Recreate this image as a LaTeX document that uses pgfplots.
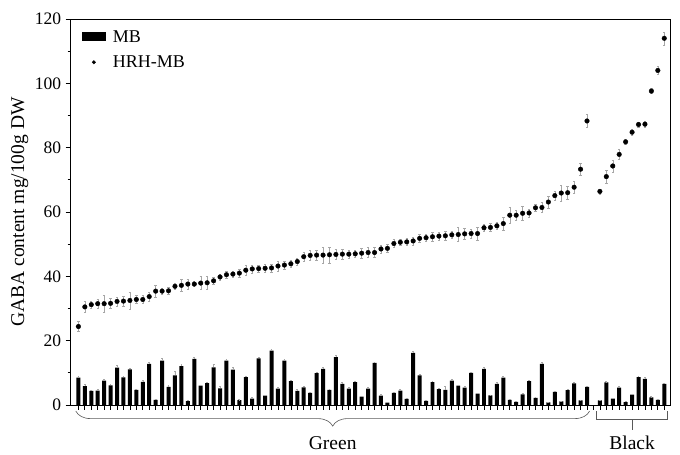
\documentclass[border=0pt]{standalone}
\usepackage{fontspec}
\setmainfont{Liberation Serif}
\usepackage{pgfplots}
\usepackage{pgfplotstable}
\pgfplotsset{compat=1.18}
\usetikzlibrary{decorations.pathreplacing}

\pgfplotstableread{
x y e
1 8.5 0.5
2 5.9 0.6
3 4.4 0.3
4 4.5 0.3
5 7.6 0.4
6 6.1 0.3
7 11.6 0.8
8 8.6 0.4
9 11.1 0.4
10 4.7 0.3
11 7.2 0.4
12 12.8 0.5
13 1.6 0.2
14 13.8 0.6
15 5.6 0.4
16 9.2 1.4
17 12.1 0.5
18 1.2 0.2
19 14.3 0.6
20 6.0 0.3
21 6.8 0.4
22 11.7 0.9
23 5.2 0.6
24 13.8 0.5
25 11.0 0.7
26 1.5 0.2
27 8.7 0.4
28 2.0 0.3
29 14.5 0.4
30 2.9 0.2
31 16.9 0.3
32 5.1 0.3
33 13.8 0.4
34 7.4 0.4
35 4.4 0.4
36 5.5 0.3
37 3.8 0.3
38 9.9 0.4
39 11.2 0.4
40 4.7 0.3
41 14.9 0.5
42 6.6 0.5
43 5.1 0.3
44 7.1 0.4
45 2.6 0.2
46 5.1 0.3
47 13.1 0.3
48 2.9 0.4
49 0.7 0.2
50 3.8 0.3
51 4.5 0.4
52 1.9 0.2
53 16.2 0.4
54 9.2 0.4
55 1.3 0.2
56 7.1 0.4
57 4.9 0.3
58 4.7 1.1
59 7.6 0.4
60 6.0 0.3
61 5.4 0.3
62 10.0 0.3
63 3.5 0.3
64 11.2 0.4
65 3.0 0.2
66 6.6 0.4
67 8.5 0.4
68 1.6 0.2
69 1.0 0.2
70 3.3 0.3
71 7.4 0.3
72 2.2 0.2
73 12.8 0.5
74 0.8 0.2
75 4.1 0.3
76 1.1 0.2
77 4.6 0.3
78 6.7 0.5
79 1.4 0.2
80 5.6 0.3
82 1.4 0.2
83 7.0 0.3
84 2.0 0.2
85 5.4 0.3
86 0.9 0.2
87 3.2 0.3
88 8.7 0.3
89 8.1 0.4
90 2.4 0.2
91 1.6 0.2
92 6.6 0.3
}\mbtable

\pgfplotstableread{
x y e
1 24.4 1.5
2 30.5 1.8
3 31.2 1.2
4 31.5 1.5
5 31.5 2.5
6 31.6 1.5
7 32.2 1.4
8 32.3 1.5
9 32.5 2.6
10 32.8 1.2
11 32.8 1.2
12 33.7 1.5
13 35.4 1.8
14 35.4 1.0
15 35.5 1.0
16 36.9 1.0
17 37.2 1.8
18 37.6 1.5
19 37.6 0.8
20 37.9 2.0
21 38.0 2.0
22 38.6 1.2
23 39.8 1.0
24 40.5 1.0
25 40.7 1.0
26 41.0 1.2
27 41.9 1.5
28 42.3 1.2
29 42.4 1.0
30 42.5 1.2
31 42.6 1.2
32 43.2 1.5
33 43.5 1.2
34 43.9 1.0
35 44.6 1.0
36 46.1 1.5
37 46.5 1.5
38 46.6 1.5
39 46.6 2.5
40 46.7 2.5
41 46.8 1.5
42 46.9 1.5
43 46.9 1.2
44 47.0 1.2
45 47.2 1.5
46 47.4 1.5
47 47.4 1.5
48 48.5 1.2
49 48.7 1.2
50 50.2 1.2
51 50.6 1.0
52 50.7 1.0
53 51.0 1.2
54 51.8 1.2
55 52.0 1.0
56 52.3 1.5
57 52.5 1.2
58 52.6 1.5
59 52.9 1.0
60 53.0 2.2
61 53.2 1.8
62 53.3 1.5
63 53.3 2.0
64 55.1 1.2
65 55.2 1.2
66 55.7 1.2
67 56.4 2.0
68 59.0 2.4
69 59.0 1.5
70 59.6 2.2
71 59.7 1.2
72 61.3 1.2
73 61.4 1.5
74 63.1 1.8
75 65.1 1.5
76 65.9 2.5
77 66.0 2.0
78 67.7 2.0
79 73.3 2.0
80 88.3 2.0
82 66.4 0.8
83 71.0 2.0
84 74.3 1.8
85 77.9 1.5
86 81.8 0.8
87 84.8 0.8
88 87.2 0.8
89 87.3 0.8
90 97.6 0.8
91 104.0 1.2
92 114.0 2.0
}\hrhtable

\begin{document}
\begin{tikzpicture}
\begin{axis}[
  scale only axis,
  width=600pt, height=386pt,
  xmin=-0.2, xmax=93,
  ymin=0, ymax=120,
  clip=false,
  axis line style={black, line width=0.8pt},
  ytick={0,20,...,120},
  minor y tick num=1,
  xtick={1,...,92},
  xticklabels={},
  tick align=outside,
  xtick pos=bottom,
  ytick pos=left,
  major tick length=5pt,
  minor tick length=3pt,
  tick style={black, line width=0.7pt},
  /pgf/number format/assume math mode=true,
  tick label style={font=\fontsize{17.5}{20}\selectfont},
  yticklabel style={xshift=-1pt},
  ylabel={GABA content mg/100g DW},
  ylabel style={font=\fontsize{19.5}{22}\selectfont, at={(axis description cs:-0.085,0.5)}, anchor=center},
  legend style={draw=none, fill=none, at={(axis description cs:0.018,0.975)}, anchor=north west,
    font=\fontsize{18}{20}\selectfont, row sep=9pt, inner sep=0pt, nodes={inner ysep=1.5pt, inner xsep=2.8pt, anchor=west}},
  legend cell align=left,
]
\addplot[ybar, bar width=0.62, fill=black, draw=none,
  legend image code/.code={\fill[black] (0pt,-4.5pt) rectangle (24pt,4.5pt); \fill[white, opacity=0] (24pt,-0.5pt) rectangle (28pt,0.5pt);},
  error bars/.cd, y dir=plus, y explicit,
  error bar style={gray!70, line width=0.4pt},
  error mark options={rotate=90, mark size=0.9pt, gray!70}]
  table[x=x, y=y, y error=e] {\mbtable};
\addlegendentry{MB}
\addplot[only marks, mark=*, mark size=2.3pt, black,
  legend image code/.code={\fill[black] (12pt,0pt) circle (1.8pt); \fill[white, opacity=0] (0pt,-0.5pt) rectangle (28pt,0.5pt);},
  error bars/.cd, y dir=both, y explicit,
  error bar style={gray!70, line width=0.4pt},
  error mark options={rotate=90, mark size=1.2pt, gray!70}]
  table[x=x, y=y, y error=e] {\hrhtable};
\addlegendentry{HRH-MB}

% braces and labels
\draw[gray!70!black, line width=0.6pt, decorate, decoration={brace, mirror, amplitude=15pt}]
  (axis cs:0.6,-1.9) -- (axis cs:80.4,-1.9);
\draw[gray!70!black, line width=0.6pt]
  (axis cs:81.5,-1.9) -- (axis cs:81.5,-4.4) -- (axis cs:92.5,-4.4) -- (axis cs:92.5,-1.9)
  (axis cs:87,-4.4) -- (axis cs:87,-7.8);
\node[font=\fontsize{19.5}{22}\selectfont] at (axis cs:40.5,-11.9) {Green};
\node[font=\fontsize{19.5}{22}\selectfont] at (axis cs:87,-11.9) {Black};
\path (rel axis cs:-0.1178,-0.1295) rectangle (rel axis cs:1.0155,1.0492);
\end{axis}
\end{tikzpicture}
\end{document}
